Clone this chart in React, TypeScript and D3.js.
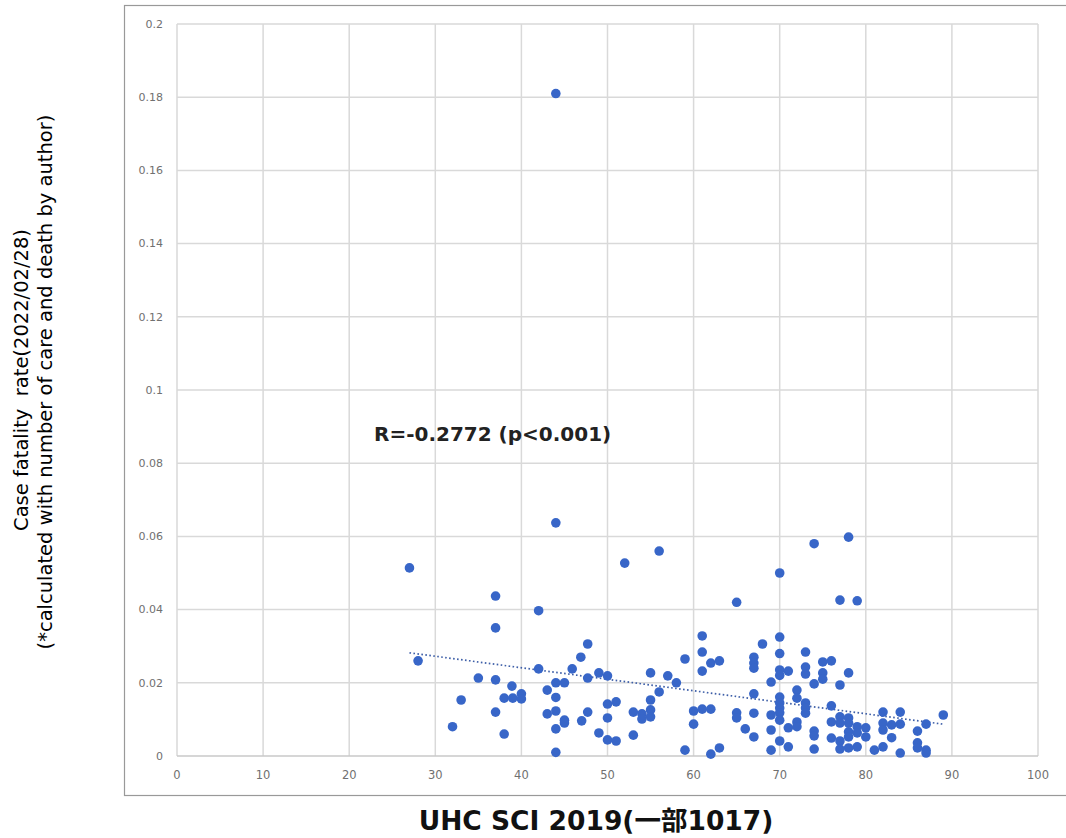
import React from "react";
import * as d3 from "d3";

const xTicks = [0, 10, 20, 30, 40, 50, 60, 70, 80, 90, 100];
const yTicks = [0, 0.02, 0.04, 0.06, 0.08, 0.1, 0.12, 0.14, 0.16, 0.18, 0.2];
const yTickLabels = ["0", "0.02", "0.04", "0.06", "0.08", "0.1", "0.12", "0.14", "0.16", "0.18", "0.2"];

const uhcX = [
  44, 27, 37, 42, 37, 28, 47.7, 46.9, 42, 45.9, 47.7, 35, 37, 38.9, 44, 45, 43, 44, 38, 39, 40, 40, 33, 37, 43, 44, 45, 45, 47, 47.7, 32, 38, 44, 44, 44,
  56, 52, 65, 61, 61, 62, 63, 61, 59, 67, 67, 67, 49, 50, 55, 57, 58, 56, 55, 51, 50, 50, 53, 54, 54, 55, 55, 49, 50, 51, 53, 60, 61, 62, 60, 59, 62, 63, 65, 65, 67, 66, 67, 67,
  78, 74, 70, 77, 79, 70, 68, 70, 73, 75, 76, 70, 70, 71, 73, 73, 75, 75, 78, 69, 74, 77, 72, 70, 70, 70, 70, 70, 72, 73, 73, 73, 76, 69, 72, 71, 72, 76, 77, 77, 78, 78, 79, 78, 79, 78, 80, 80, 79, 78, 77, 77, 76, 74, 74, 74, 71, 70, 69, 69, 81, 82, 82, 82, 82, 83, 83, 84, 84, 84, 86, 86, 86, 87, 87, 87, 89,
];
const fatalityRate = [
  0.181, 0.0514, 0.0437, 0.0397, 0.035, 0.026, 0.0306, 0.027, 0.0238, 0.0238, 0.0213, 0.0213, 0.0208, 0.0191, 0.02, 0.02, 0.018, 0.016, 0.0158, 0.0158, 0.017, 0.0156, 0.0153, 0.012, 0.0115, 0.0123, 0.0098, 0.009, 0.0096, 0.012, 0.008, 0.006, 0.0074, 0.001, 0.0637,
  0.056, 0.0527, 0.042, 0.0328, 0.0284, 0.0254, 0.026, 0.0232, 0.0265, 0.027, 0.0254, 0.024, 0.0227, 0.0219, 0.0227, 0.0219, 0.02, 0.0175, 0.0153, 0.0148, 0.0142, 0.0104, 0.012, 0.0115, 0.0101, 0.0126, 0.0107, 0.0063, 0.0044, 0.0041, 0.0057, 0.0123, 0.0128, 0.0128, 0.0087, 0.0016, 0.0005, 0.0022, 0.0118, 0.0104, 0.0117, 0.0074, 0.0052, 0.017,
  0.0598, 0.058, 0.05, 0.0426, 0.0424, 0.0325, 0.0306, 0.028, 0.0284, 0.0257, 0.026, 0.0235, 0.022, 0.0232, 0.0243, 0.0224, 0.0227, 0.021, 0.0227, 0.0202, 0.0197, 0.0194, 0.018, 0.0161, 0.0145, 0.0131, 0.0118, 0.0098, 0.0158, 0.0145, 0.0131, 0.0117, 0.0137, 0.0112, 0.0093, 0.0077, 0.008, 0.0093, 0.0107, 0.009, 0.0104, 0.009, 0.008, 0.0066, 0.0063, 0.0052, 0.0077, 0.0052, 0.0025, 0.0022, 0.0041, 0.0019, 0.0049, 0.0068, 0.0055, 0.0019, 0.0025, 0.0041, 0.0071, 0.0016, 0.0016, 0.012, 0.009, 0.0071, 0.0025, 0.0085, 0.005, 0.012, 0.0087, 0.0008, 0.0068, 0.0036, 0.0022, 0.0087, 0.0016, 0.0008, 0.0112,
];
// trendline (start and end of the dotted linear fit)
const trendX = [27, 89];
const trendY = [0.0282, 0.0087];

const annotation = "R=-0.2772 (p<0.001)";
const yTitle1 = "Case fatality\u00a0 rate(2022/02/28)";
const yTitle2 = "(*calculated with number of care and death by author)";
const xTitle = "UHC SCI 2019(一部1017)";

export default function App() {
  const W = 1066, H = 838;
  const x = d3.scaleLinear().domain([0, 100]).range([177, 1038]);
  const y = d3.scaleLinear().domain([0, 0.2]).range([756, 24]);
  const pts = uhcX.map((v, i) => [v, fatalityRate[i]]);
  const trend = d3.line<number>().x((d) => x(trendX[d])).y((d) => y(trendY[d]))([0, 1]);
  const tickFont = "'DejaVu Sans', Verdana, sans-serif";
  return (
    <svg width={W} height={H} style={{ position: "absolute", left: 0, top: 0, background: "#fff" }}>
      <rect x={124.5} y={5.5} width={1000} height={790} fill="#fff" stroke="#999" strokeWidth={1.2} />
      {xTicks.map((t) => (
        <line key={"gx" + t} x1={x(t)} x2={x(t)} y1={y(0.2)} y2={y(0)} stroke="#d9d9d9" strokeWidth={1.5} />
      ))}
      {yTicks.map((t) => (
        <line key={"gy" + t} x1={x(0)} x2={x(100)} y1={y(t)} y2={y(t)} stroke={t === 0 ? "#c8c8c8" : "#d9d9d9"} strokeWidth={1.5} />
      ))}
      {yTicks.map((t, i) => (
        <text key={"ty" + t} x={163} y={y(t)} dy="0.35em" textAnchor="end" fontFamily={tickFont} fontSize={11} fill="#707070">
          {yTickLabels[i]}
        </text>
      ))}
      {xTicks.map((t) => (
        <text key={"tx" + t} x={x(t)} y={779} textAnchor="middle" fontFamily={tickFont} fontSize={11.5} fill="#707070">
          {t}
        </text>
      ))}
      <path d={trend || ""} fill="none" stroke="#3e5fa8" strokeWidth={1.7} strokeDasharray="1.6,2.4" />
      {pts.map((p, i) => (
        <circle key={i} cx={x(p[0])} cy={y(p[1])} r={4.8} fill="#3866c8" />
      ))}
      <text x={374} y={441} fontFamily={tickFont} fontWeight="bold" fontSize={20} fill="#222">
        {annotation}
      </text>
      <text transform="translate(28,380) rotate(-90)" textAnchor="middle" fontFamily={tickFont} fontSize={19.5} fill="#000">
        {yTitle1}
      </text>
      <text transform="translate(52,382) rotate(-90)" textAnchor="middle" fontFamily={tickFont} fontSize={19.5} fill="#000">
        {yTitle2}
      </text>
      <text x={596} y={830} textAnchor="middle" fontFamily={tickFont + ", 'Noto Sans CJK JP'"} fontWeight="bold" fontSize={26.5} fill="#111">
        {xTitle}
      </text>
    </svg>
  );
}
